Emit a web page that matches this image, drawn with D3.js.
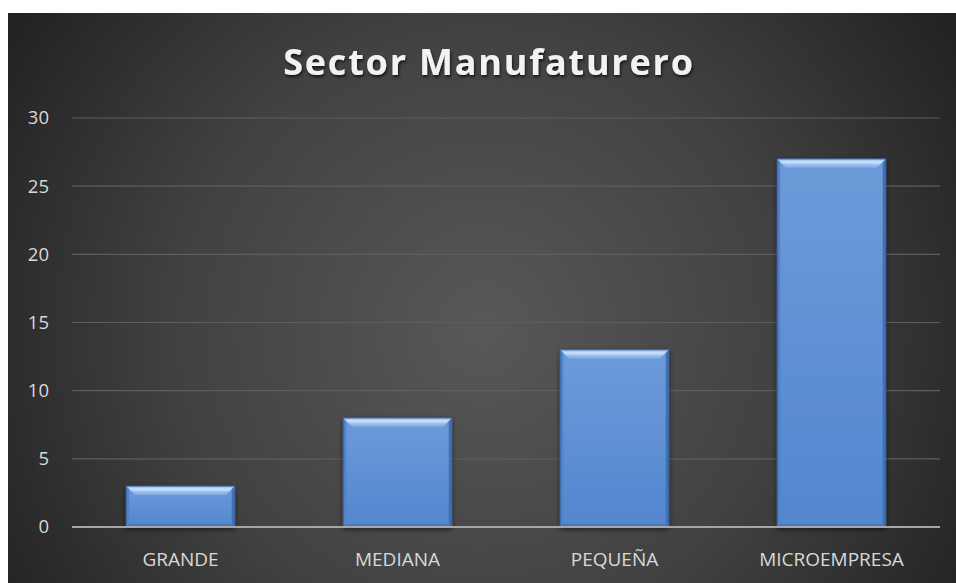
<!DOCTYPE html>
<html lang="es">
<head>
    <meta charset="UTF-8">
    <script src="https://d3js.org/d3.v7.min.js"></script>
    <title>Sector Manufaturero</title>
    <style>
        body { margin: 0; padding: 0; background: #fff; }
        svg { display: block; }
    </style>
</head>
<body>
<script>
    // data
    var categories = ['GRANDE', 'MEDIANA', 'PEQUEÑA', 'MICROEMPRESA']
    var values = [3, 8, 13, 27]
    var yTicks = [0, 5, 10, 15, 20, 25, 30]
    var title = 'Sector Manufaturero'

    var W = 956, H = 583
    var frame = { x: 8, y: 13 }
    var plot = { left: 72, right: 940, top: 118, bottom: 527 }

    var svg = d3.select('body').append('svg')
        .attr('width', W)
        .attr('height', H)

    var defs = svg.append('defs')

    var bg = defs.append('radialGradient')
        .attr('id', 'bg')
        .attr('gradientUnits', 'userSpaceOnUse')
        .attr('cx', 482).attr('cy', 330).attr('r', 560)
    bg.append('stop').attr('offset', '0').attr('stop-color', '#585858')
    bg.append('stop').attr('offset', '0.55').attr('stop-color', '#414141')
    bg.append('stop').attr('offset', '1').attr('stop-color', '#222222')

    var barGrad = defs.append('linearGradient')
        .attr('id', 'barFill')
        .attr('x1', 0).attr('y1', 0).attr('x2', 0).attr('y2', 1)
    barGrad.append('stop').attr('offset', '0').attr('stop-color', '#6d9bd9')
    barGrad.append('stop').attr('offset', '1').attr('stop-color', '#5286cf')

    var bevGrad = defs.append('linearGradient')
        .attr('id', 'bevFill')
        .attr('x1', 0).attr('y1', 0).attr('x2', 0).attr('y2', 1)
    bevGrad.append('stop').attr('offset', '0').attr('stop-color', '#8db6ec')
    bevGrad.append('stop').attr('offset', '0.35').attr('stop-color', '#cfe4fc')
    bevGrad.append('stop').attr('offset', '0.6').attr('stop-color', '#a2c4f0')
    bevGrad.append('stop').attr('offset', '1').attr('stop-color', '#78a5df')

    var shadow = defs.append('filter').attr('id', 'shadow')
        .attr('x', '-20%').attr('y', '-20%').attr('width', '140%').attr('height', '140%')
    shadow.append('feDropShadow')
        .attr('dx', 0).attr('dy', 2).attr('stdDeviation', 2.5)
        .attr('flood-color', '#000').attr('flood-opacity', 0.55)

    var txtShadow = defs.append('filter').attr('id', 'tshadow')
    txtShadow.append('feDropShadow')
        .attr('dx', 1).attr('dy', 2).attr('stdDeviation', 1.5)
        .attr('flood-color', '#000').attr('flood-opacity', 0.7)

    svg.append('rect')
        .attr('x', frame.x).attr('y', frame.y)
        .attr('width', W - frame.x).attr('height', H - frame.y)
        .attr('fill', 'url(#bg)')

    var x = d3.scaleBand()
        .domain(categories)
        .range([plot.left, plot.right])
        .paddingInner(0.5)
        .paddingOuter(0.25)

    var y = d3.scaleLinear()
        .domain([0, 30])
        .range([plot.bottom, plot.top])

    // gridlines
    svg.append('g')
        .selectAll('line')
        .data(yTicks.filter(function (d) { return d > 0 }))
        .enter()
        .append('line')
        .attr('x1', plot.left).attr('x2', plot.right)
        .attr('y1', function (d) { return y(d) })
        .attr('y2', function (d) { return y(d) })
        .attr('stroke', '#5e5e5e')
        .attr('stroke-width', 1.2)

    // y axis labels
    var yAxis = svg.append('g')
        .attr('transform', 'translate(' + (plot.left - 23) + ',0)')
        .call(d3.axisLeft(y).tickValues(yTicks).tickSize(0).tickPadding(0))
    yAxis.select('.domain').remove()
    yAxis.selectAll('text')
        .attr('fill', '#d9d9d9')
        .attr('font-family', 'Open Sans, sans-serif')
        .attr('font-size', 18.5)

    // bars with bevel
    var bev = 9, side = 3
    var bars = svg.append('g')
        .selectAll('g')
        .data(values)
        .enter()
        .append('g')
        .attr('filter', 'url(#shadow)')

    bars.append('rect')
        .attr('x', function (d, i) { return x(categories[i]) })
        .attr('y', function (d) { return y(d) })
        .attr('width', x.bandwidth())
        .attr('height', function (d) { return y(0) - y(d) })
        .attr('fill', 'url(#barFill)')

    // left edge
    bars.append('path')
        .attr('d', function (d, i) {
            var x0 = x(categories[i]), t = y(d), b = y(0)
            return 'M' + x0 + ',' + t + 'L' + (x0 + side) + ',' + (t + side) +
                'L' + (x0 + side) + ',' + (b - side) + 'L' + x0 + ',' + b + 'Z'
        })
        .attr('fill', '#4f82c7')
    // right edge
    bars.append('path')
        .attr('d', function (d, i) {
            var x1 = x(categories[i]) + x.bandwidth(), t = y(d), b = y(0)
            return 'M' + x1 + ',' + t + 'L' + (x1 - side) + ',' + (t + side) +
                'L' + (x1 - side) + ',' + (b - side) + 'L' + x1 + ',' + b + 'Z'
        })
        .attr('fill', '#3f6fb2')
    // bottom edge
    bars.append('path')
        .attr('d', function (d, i) {
            var x0 = x(categories[i]), x1 = x0 + x.bandwidth(), b = y(0)
            return 'M' + x0 + ',' + b + 'L' + x1 + ',' + b +
                'L' + (x1 - side) + ',' + (b - side) + 'L' + (x0 + side) + ',' + (b - side) + 'Z'
        })
        .attr('fill', '#4778bd')
    // top bevel
    bars.append('path')
        .attr('d', function (d, i) {
            var x0 = x(categories[i]), x1 = x0 + x.bandwidth(), t = y(d)
            return 'M' + x0 + ',' + t + 'L' + x1 + ',' + t +
                'L' + (x1 - bev) + ',' + (t + bev) + 'L' + (x0 + bev) + ',' + (t + bev) + 'Z'
        })
        .attr('fill', 'url(#bevFill)')
    bars.append('rect')
        .attr('x', function (d, i) { return x(categories[i]) })
        .attr('y', function (d) { return y(d) })
        .attr('width', x.bandwidth())
        .attr('height', function (d) { return y(0) - y(d) })
        .attr('fill', 'none')
        .attr('stroke', '#3a64a0')
        .attr('stroke-width', 1)

    // baseline
    svg.append('line')
        .attr('x1', plot.left).attr('x2', plot.right)
        .attr('y1', y(0)).attr('y2', y(0))
        .attr('stroke', '#a6a6a6')
        .attr('stroke-width', 2)

    // x axis labels
    var xAxis = svg.append('g')
        .attr('transform', 'translate(0,' + (y(0) + 25) + ')')
        .call(d3.axisBottom(x).tickSize(0).tickPadding(0))
    xAxis.select('.domain').remove()
    xAxis.selectAll('text')
        .attr('fill', '#d9d9d9')
        .attr('font-family', 'Open Sans, sans-serif')
        .attr('font-size', 19)

    // title
    svg.append('text')
        .attr('x', 489)
        .attr('y', 75)
        .attr('text-anchor', 'middle')
        .attr('fill', '#f2f2f2')
        .attr('font-family', 'Open Sans, sans-serif')
        .attr('font-weight', 'bold')
        .attr('font-size', 36)
        .attr('letter-spacing', 1.8)
        .attr('filter', 'url(#tshadow)')
        .text(title)
</script>
</body>
</html>
